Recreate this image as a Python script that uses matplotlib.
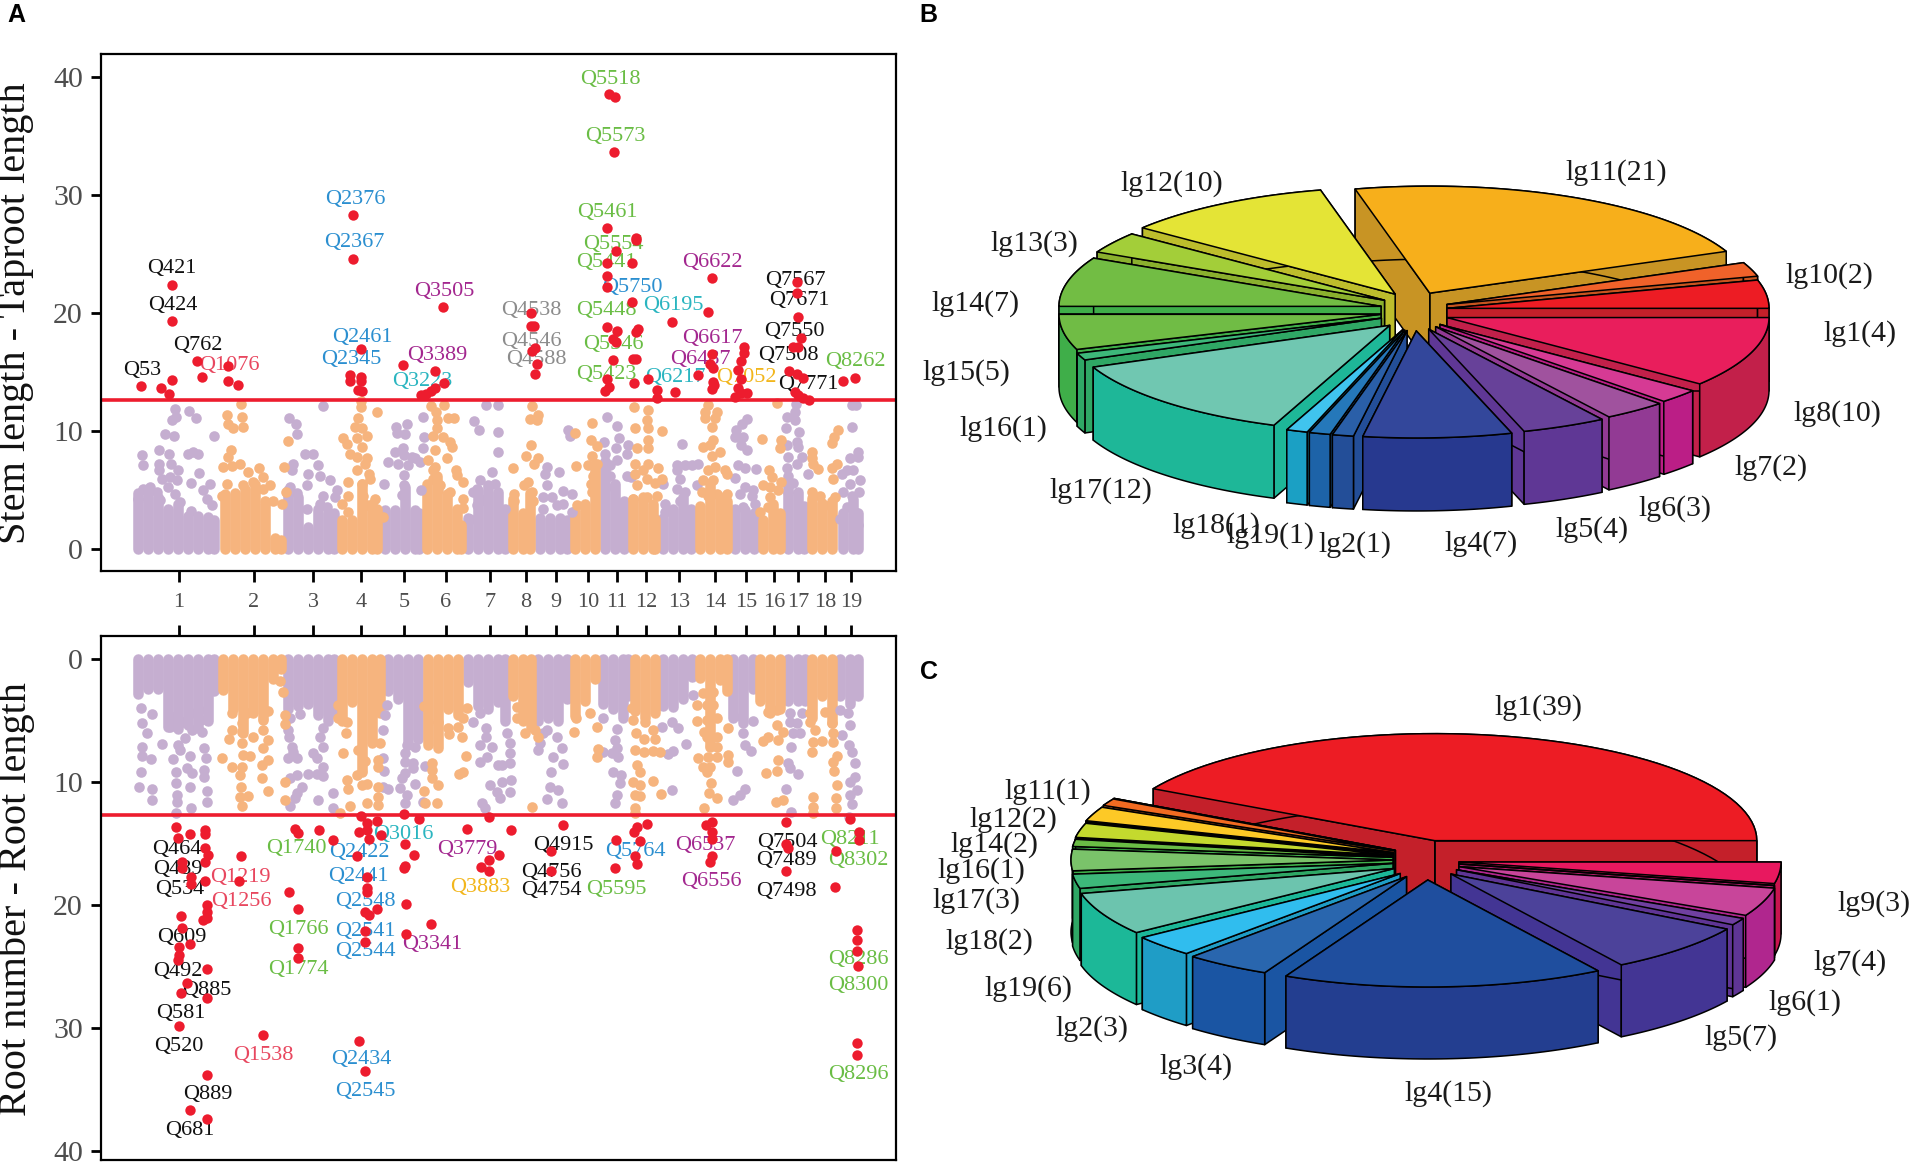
import numpy as np
import matplotlib
matplotlib.use("Agg")
import matplotlib.pyplot as plt
from matplotlib.patches import Polygon

W, H = 1910, 1164
plt.rcParams['font.family'] = ['Liberation Serif', 'DejaVu Serif']

LILAC = "#C5AED0"
ORANGE = "#F6B47E"
RED = "#ED1C2E"
THRESH = 12.65

# chromosome ticks
chrom_pos = [179, 254, 313, 361, 404, 446, 490, 526, 556, 588, 617, 646, 679, 715, 746, 774, 798, 825, 851]
chrom_lab = [str(i) for i in range(1, 20)]

# ---- panel A top, saturated part of each chromosome (position, height)
top_mass_lilac_x = [138,148,158,168,178,188,198,208,214, 288,298,308,318,328,334, 385,395,405,415,419,
                    468,478,488,498,505, 540,550,560,567, 605,615,624, 663,673,683,691, 735,745,754, 788,798,804, 843,853,858]
top_mass_lilac_y = [4.7,5.1,4.4,3.4,3.8,2.8,2.8,2.7,2.4, 5.0,4.4,1.8,3.4,3.0,3.0, 3.3,3.3,5.2,3.3,3.0,
                    2.6,5.0,5.2,4.8,3.0, 2.6,2.6,2.6,2.4, 7.4,5.5,4.0, 2.6,3.4,4.4,3.4, 3.4,3.3,3.0, 5.5,4.8,3.6, 3.0,4.2,3.0]
top_mass_orange_x = [225,235,245,255,265,275,281, 342,352,362,372,377, 427,437,447,457,461, 513,523,530,
                     575,585,595, 633,643,653,655, 700,710,720,727, 763,773,780, 812,822,832]
top_mass_orange_y = [4.6,4.7,5.1,5.5,3.8,0.9,0.7, 2.4,2.4,5.5,3.8,3.4, 5.5,6.2,4.6,3.4,2.0, 4.2,3.0,4.7,
                     3.2,3.8,7.2, 4.2,4.4,3.8,2.5, 3.6,5.6,4.4,4.0, 2.4,3.8,3.0, 4.3,3.9,4.0]

# ---- panel A top, single points below the threshold
top_lilac_x = [175,172,176,189,196,165,174,214,159,169,142,143,188,193,198,159,171,159,178,162,170,177,199,191,210,203,207,212,168,175,180,143,150,157,138,160,191,
               289,296,297,323,305,313,318,293,292,308,320,330,307,290,337,335,323,297,320,307,327,
               423,424,407,396,397,405,403,395,404,412,388,398,408,415,420,404,384,404,421,402,423,
               486,474,479,498,498,492,480,488,477,473,495,483,477,470,498,500,505,
               568,570,547,545,559,547,543,552,563,572,563,557,543,572,
               607,617,619,604,628,616,605,627,617,610,627,631,610,606,
               682,677,685,692,698,677,680,663,677,685,665,665,680,697,
               747,742,736,735,743,741,747,738,745,756,735,745,753,740,752,755,743,
               796,795,787,795,786,799,787,797,798,788,802,797,787,788,793,788,808,
               852,856,852,858,858,850,847,853,842,860,850,843,859,852,847,857,840,858]
top_lilac_y = [11.84,10.9,11.2,11.7,11.05,9.77,9.57,9.6,8.39,8.05,7.93,7.08,8.05,8.16,8.05,7.22,7.22,6.66,6.66,5.95,6.09,5.8,6.43,5.58,5.52,4.96,4.25,3.68,5.24,4.67,3.97,5.1,5.24,4.82,4.25,4.1,3.2,
               11.05,10.6,9.7,12.1,8.07,8.0,7.1,7.2,6.66,6.3,6.2,5.8,5.4,5.24,5.0,4.4,4.5,4.7,3.8,3.4,3.5,
               11.2,9.5,10.6,10.3,9.8,9.7,8.55,8.16,7.93,7.8,7.37,7.22,7.08,7.65,7.37,6.23,5.52,5.38,4.96,4.53,8.5,
               12.2,10.8,10.06,9.9,8.2,6.5,5.8,5.4,5.1,4.8,5.5,4.1,3.7,2.55,12.2,3.4,3.4,
               10.06,9.6,6.94,6.37,6.5,5.4,4.4,4.4,4.87,4.6,3.8,3.7,3.4,3.1,
               11.2,10.4,9.4,9.07,8.8,8.55,8.0,8.07,7.5,7.08,6.2,6.1,6.2,5.24,
               8.87,7.08,7.08,7.08,7.2,6.66,5.95,5.5,5.1,4.8,3.8,3.1,4.0,5.4,
               11.0,10.6,10.06,9.5,9.5,8.8,8.4,7.1,6.86,6.74,6.0,5.24,5.0,4.67,4.5,3.8,3.5,
               12.3,11.6,11.2,10.9,10.2,9.9,8.8,9.07,8.64,7.8,7.8,7.2,6.8,6.2,5.6,4.8,6.37,
               12.2,12.2,10.3,8.16,7.8,7.65,6.66,6.66,6.37,5.8,5.5,4.8,4.8,4.5,3.5,3.0,2.55,2.0]
top_orange_x = [241,227,228,233,242,243,231,228,223,232,240,248,259,263,270,253,227,243,222,263,265,273,282,288,284,286,
                361,361,377,358,355,362,343,347,367,357,362,350,357,367,365,357,369,370,348,362,348,342,348,363,375,383,367,
                431,444,436,437,448,454,437,433,443,450,452,435,447,428,435,456,457,463,433,450,463,463,438,433,440,
                532,530,538,537,531,526,538,534,513,528,524,514,532,514,533,
                575,592,591,597,576,592,588,597,593,592,577,591,
                634,648,647,648,635,662,648,648,637,635,648,658,643,635,647,662,655,637,633,657,647,
                708,705,717,705,715,712,713,703,710,712,720,715,708,725,727,703,713,702,717,727,708,723,
                777,762,781,780,769,772,781,763,770,778,770,760,768,
                838,834,832,812,812,813,818,837,832,833,812,820,835,830]
top_orange_y = [12.3,11.3,10.6,10.2,11.2,10.3,8.36,7.8,6.94,7.0,7.17,6.5,6.8,6.1,5.4,5.67,5.5,5.4,4.5,5.1,4.0,4.0,3.8,9.1,6.9,4.8,
                12.5,12.0,11.6,11.05,10.3,10.2,9.43,8.84,9.6,9.35,8.64,8.07,7.8,7.65,7.2,6.66,6.37,5.95,5.67,5.52,4.45,3.82,3.1,4.5,4.25,2.7,3.7,
                12.1,12.2,11.6,10.9,11.1,11.05,10.2,9.6,9.5,9.07,8.64,8.36,7.65,7.5,6.94,6.66,6.23,5.67,5.95,4.82,4.25,3.46,4.96,6.66,5.4,
                12.1,11.0,11.3,10.9,8.8,7.9,7.7,7.2,6.8,5.67,5.4,4.67,4.8,4.0,4.0,
                9.83,10.7,9.2,8.7,7.0,7.9,7.1,7.2,6.2,4.8,3.7,5.5,
                12.0,11.8,10.9,10.2,10.2,10.0,9.2,8.5,8.5,7.2,7.2,6.86,6.66,6.37,5.95,5.95,5.6,5.4,4.25,4.5,4.4,
                12.2,11.6,11.6,11.05,11.1,10.3,9.2,8.6,8.8,7.9,8.16,6.94,6.66,6.66,6.37,5.8,5.8,4.8,4.67,4.67,4.5,4.25,
                12.4,9.3,9.26,8.55,6.66,6.1,5.67,5.4,5.24,4.96,4.4,3.1,3.5,
                10.06,9.5,9.0,8.2,7.65,7.2,6.74,7.2,6.8,5.95,4.8,4.5,4.4,3.7]

# significant points, top
top_red_x = [141.4,161.4,169,172,172,172,196.6,202,227.7,228.3,238.3,
             353.3,353.3,350,350,361,361,361,358,362,
             403,421.4,425.5,431.3,435.4,435.4,444.3,443,
             531,531,534,535,532,537,535,
             606.8,609,615,613.8,636,636,616,607.4,631.5,606.8,606.8,631.5,606.8,617,638,636,612.7,616,612.7,632.6,636,606.8,608.6,604.5,633.8,
             648,657.3,657.3,675,672,698,
             712,708.3,712,710,713,713,712,714,
             743.5,743.5,741,738,740.6,738,734.7,746.5,740.6,
             797,797,798,800.5,793.4,798,788.7,797,802.8,798,802.8,808.7,795,
             843.3,854.5]
top_red_y = [13.8,13.66,13.1,14.3,19.35,22.4,15.9,14.57,15.5,14.2,13.9,
             28.3,24.6,14.7,14.2,16.9,14.6,14.2,13.5,13.4,
             15.6,13.0,13.1,13.4,13.66,15.1,14.05,20.5,
             20.0,18.9,18.9,17.0,16.8,15.7,14.8,
             27.2,38.6,38.3,33.7,26.4,26.2,25.3,24.2,24.2,23.1,22.2,20.9,18.8,18.5,18.6,18.4,17.8,17.5,16.0,16.1,16.1,14.4,13.7,13.4,14.05,
             14.4,13.46,12.75,13.3,19.25,14.76,
             23.0,20.1,16.5,15.7,15.3,14.1,13.56,13.9,
             17.1,16.6,15.9,15.2,14.4,13.66,12.9,13.2,13.2,
             22.6,21.7,19.7,17.9,17.1,17.1,15.1,14.86,14.5,13.07,12.8,12.6,13.3,
             14.2,14.5]

BLK, BLU, GRN, PUR, TEA, GRY, PNK, YEL = "#111111", "#2B8FD0", "#6ABD45", "#A3278F", "#2AB5C0", "#8C8C8C", "#E8475F", "#F2B61C"

top_lab = ["Q5518","Q5573","Q2376","Q2367","Q421","Q424","Q762","Q53","Q1076","Q3505","Q3389","Q3223","Q2461","Q2345",
           "Q4538","Q4546","Q4588","Q5461","Q5554","Q5441","Q5750","Q5448","Q5546","Q5423","Q6195","Q6217","Q6622","Q6617",
           "Q6487","Q7052","Q7567","Q7671","Q7550","Q7508","Q7771","Q8262"]
top_lab_x = [610.4,615,355,354,172,173,198,142.6,229,444,437,422.5,362.7,351,
             531.7,531.7,536.4,607.4,613.3,606.2,632.6,606.8,613.3,606.2,673.7,674.9,711.9,712.4,
             700.1,746.5,795.8,799.3,794,788,808.7,855.6]
top_lab_y = [39.8,35.0,29.65,25.95,23.74,20.65,17.2,15.15,15.5,21.85,16.4,14.2,17.95,16.05,
             20.2,17.6,16.05,28.5,25.8,24.3,22.2,20.2,17.3,14.75,20.65,14.55,24.3,17.8,
             16.05,14.55,22.76,21.05,18.44,16.4,13.9,15.84]
top_lab_c = [GRN,GRN,BLU,BLU,BLK,BLK,BLK,BLK,PNK,PUR,PUR,TEA,BLU,BLU,
             GRY,GRY,GRY,GRN,GRN,GRN,BLU,GRN,GRN,GRN,TEA,TEA,PUR,PUR,
             PUR,YEL,BLK,BLK,BLK,BLK,BLK,GRN]

# ---- panel A bottom, saturated part
bot_mass_lilac_x = [138,148,158,168,178,188,198,208,214, 288,298,308,318,328,334, 388,398,408,418,
                    468,478,488,498,505, 538,548,558,567, 603,613,623,628, 663,673,683,692, 733,743,753, 788,798,805, 840,850,858]
bot_mass_lilac_y = [2.8,2.4,2.4,5.5,5.7,5.3,5.6,5.0,2.6, 4.0,3.8,3.6,4.5,5.0,4.4, 2.6,3.2,7.0,6.5,
                    1.8,3.8,4.0,3.5,5.0, 5.0,4.8,5.0,3.2, 3.6,4.0,4.8,3.0, 3.8,3.9,3.2,1.4, 4.8,5.2,2.4, 3.4,3.4,3.4, 3.0,3.6,3.0]
bot_mass_orange_x = [223,233,243,253,263,273,281, 342,352,362,372,380, 428,438,448,458, 513,523,531,
                     575,585,595, 635,645,655, 700,710,720,727, 760,770,780, 812,822,832]
bot_mass_orange_y = [2.5,4.0,6.0,4.4,4.8,1.6,0.8, 5.0,3.5,9.0,6.8,4.4, 7.0,7.2,4.0,4.5, 3.0,5.0,5.5,
                     4.6,3.4,1.6, 4.2,4.8,4.4, 1.5,7.0,1.7,2.6, 3.4,4.4,4.0, 4.8,3.0,5.2]

# ---- panel A bottom, single points above the threshold
bot_lilac_x = [141,152,142,147,162,142,142,151,141,139,152,152,172,170,182,190,200,207,207,192,202,178,185,180,190,173,204,206,204,204,176,187,192,176,190,177,177,207,207,191,176,
               290,300,288,289,323,320,323,292,293,297,288,313,317,290,297,308,317,323,323,302,297,295,318,333,290,333,
               387,385,383,383,384,383,388,407,415,405,405,413,405,413,402,415,400,407,405,425,423,
               473,480,486,486,480,492,487,480,498,490,497,482,485,507,510,510,510,502,511,502,510,500,
               547,557,540,538,562,553,563,551,550,558,547,562,543,
               603,617,615,617,603,612,618,613,621,620,617,615,
               662,672,678,686,673,668,672,693,
               742,753,743,745,751,737,745,740,733,
               790,802,790,797,793,800,791,788,790,798,786,791,
               840,848,850,842,849,852,855,855,850,857,850,852,849]
bot_lilac_y = [3.98,4.44,5.2,6.0,6.88,7.1,7.86,8.13,9.13,10.35,10.54,11.44,4.66,5.47,5.07,4.39,4.93,4.12,4.93,5.75,5.88,6.96,6.42,7.37,7.86,8.13,7.24,8.05,9.0,9.6,9.13,8.86,9.2,10.08,10.35,11.03,11.57,10.68,11.63,12.06,12.47,
               4.8,4.44,5.75,6.34,5.6,6.34,7.1,7.1,7.5,8.05,8.05,7.64,8.05,9.67,9.4,9.32,9.32,8.78,9.49,10.35,10.9,11.3,11.44,10.84,11.9,12.06,
               3.7,4.53,5.75,8.0,9.05,10.35,10.54,6.96,7.1,7.64,8.32,8.46,9.27,8.86,9.67,10.16,10.49,11.03,11.7,8.64,11.63,
               5.07,4.39,5.6,6.34,6.96,7.1,7.9,8.32,8.6,10.2,10.76,11.65,12.1,6.0,6.83,7.64,8.46,8.6,9.8,9.95,10.76,11.3,
               5.75,6.29,6.83,7.37,7.24,7.9,8.5,9.13,10.4,10.6,11.35,11.7,6.0,
               4.74,5.7,6.56,7.24,7.5,7.64,7.9,9.13,9.4,10.08,11.03,11.7,
               5.47,5.07,5.56,6.9,7.45,7.7,10.6,2.9,
               4.66,5.0,6.0,6.96,7.43,9.05,10.54,11.03,11.44,
               4.39,4.34,5.07,5.2,6.0,6.0,7.1,8.46,8.86,9.32,10.57,12.44,
               4.12,4.39,5.34,6.15,6.96,7.5,8.46,9.54,9.95,10.62,11.03,11.76,12.8]
bot_orange_x = [232,247,268,263,242,232,242,229,253,263,268,242,263,268,222,232,243,250,242,262,240,262,241,248,240,268,242,280,283,285,285,285,285,
                338,338,347,346,343,358,365,362,357,380,378,378,362,367,347,348,378,378,367,350,378,340,
                424,438,448,449,458,462,466,463,459,432,432,432,438,424,437,425,463,467,
                517,517,525,535,538,532,
                576,574,590,597,598,597,
                632,633,645,636,644,653,655,635,644,653,660,637,640,633,640,635,640,653,661,635,635,
                703,713,697,707,713,697,707,717,728,704,717,707,717,710,708,698,717,703,710,707,728,728,711,709,717,704,
                768,777,777,783,768,763,778,778,777,766,783,776,
                810,825,810,815,832,833,813,822,833,812,837,833,834,837,813,813,836,836,813]
bot_orange_y = [4.39,4.39,4.17,4.93,5.2,5.75,5.88,6.5,6.29,5.75,6.56,6.83,7.24,8.18,8.05,8.73,7.78,7.86,8.73,8.6,9.4,9.67,10.35,11.08,11.17,10.7,11.92,1.76,2.63,4.53,5.26,11.44,9.95,
                3.7,4.8,5.07,6.0,7.64,7.37,8.3,9.13,9.4,6.83,8.18,8.73,10.2,10.1,9.8,10.54,10.35,11.17,11.7,11.9,11.84,12.5,
                3.8,5.07,5.6,6.1,5.47,6.34,7.83,9.13,9.32,8.46,9.0,9.67,10.2,10.68,11.7,11.7,4.8,3.98,
                3.85,4.8,6.0,5.75,6.34,12.0,
                4.8,5.9,4.39,5.47,7.29,7.97,
                3.98,4.93,5.07,5.96,6.5,5.75,6.5,7.37,7.5,7.42,7.5,8.6,9.13,9.95,10.2,11.03,11.1,9.9,10.98,12.1,12.47,
                2.76,2.63,3.7,3.7,3.7,5.0,4.93,4.8,5.6,5.88,6.29,6.29,7.1,7.1,7.9,8.05,7.9,8.73,8.73,9.13,7.78,8.32,10.08,10.9,11.3,12.1,
                4.25,4.12,5.34,5.88,6.29,6.6,6.56,8.18,9.05,9.27,11.44,11.63,
                4.39,4.25,5.07,5.75,5.2,6.0,6.7,6.6,6.7,7.5,7.83,8.32,9.05,10.2,11.17,12.0,11.3,12.1,12.5]

# significant points, bottom
bot_red_x = [176,178,190,205,205,205,208,205,182,182,191,205,191,206.6,206.6,206.6,202.5,181,182,190,179,179,178,206.6,186.6,181,206.6,179,206.6,189.6,206.6,
             240.6,239.4,263,
             295,297.5,319,333,288.7,297.5,298,298,
             361,367,377,359,367,368.5,381,357,367,367,367,365,368.5,377,365,365,359,365,
             404,419,405,414,405,404,406,406,431,
             466.5,489,499,489,481,489.4,511,
             550.5,563,550.5,
             616,615,637,634,640,635,637,647,
             706,712,712,712,712,710,
             786,786,787.6,786,
             850,858.6,858.6,835.7,834.5,857,857,857,858,857.4,857.4]
bot_red_y = [13.65,14.5,14.2,13.9,14.2,15.35,15.9,16.5,16.5,17,17.7,18,18.3,20,20.5,21,21.2,20.9,21.8,23.1,23.4,24,24.4,25.2,26.3,27.1,27.5,29.8,33.8,36.6,37.4,
             16,18,30.5,
             13.8,14.1,13.9,14.7,18.9,20.3,23.5,24.3,
             12.7,13.3,13.1,14,13.9,14.6,14.3,16,17.7,18.6,18.9,20.5,20.8,20.3,22.1,23,31,33.5,
             12.6,13,15,15.9,16.8,17,19.9,22.3,21.5,
             13.8,12.8,15.9,16.3,16.9,17.2,13.9,
             15.6,13.5,17.2,
             14.65,17,13.6,14,14.8,16,16.6,13.4,
             13.45,13.2,14,14.6,16,16.5,
             13.2,15,15.35,17.2,
             13,14,14.7,15.55,18.5,22,22.8,23.7,24.9,31.2,32.2]

bot_lab = ["Q464","Q489","Q534","Q609","Q492","Q885","Q581","Q520","Q889","Q681","Q1219","Q1256","Q1538","Q1740","Q1766","Q1774",
           "Q2422","Q2441","Q2548","Q2541","Q2544","Q2434","Q2545","Q3016","Q3779","Q3341","Q3883","Q4915","Q4756","Q4754","Q5764","Q5595",
           "Q6537","Q6556","Q7504","Q7489","Q7498","Q8211","Q8302","Q8286","Q8300","Q8296"]
bot_lab_x = [177.2,177.8,180.2,181.9,177.8,207.2,181.3,179,208.3,189.6,240.6,241.8,263.5,296.4,298.7,298.7,
             359.7,358,365.6,365,365,360.9,365,403.8,467.7,432.5,480,563.4,551.6,551.6,635,616.2,
             705.4,711.3,787.6,786.4,786.4,849.8,858.6,858,858.6,858]
bot_lab_y = [15.44,17.1,18.7,22.6,25.4,26.9,28.8,31.5,35.4,38.3,17.7,19.65,32.2,15.41,21.93,25.2,
             15.7,17.63,19.68,22.16,23.74,32.54,35.17,14.27,15.44,23.2,18.57,15.14,17.3,18.8,15.64,18.7,
             15.14,18.07,14.9,16.32,18.86,14.68,16.37,24.41,26.52,33.77]
bot_lab_c = [BLK,BLK,BLK,BLK,BLK,BLK,BLK,BLK,BLK,BLK,PNK,PNK,PNK,GRN,GRN,GRN,
             BLU,BLU,BLU,BLU,BLU,BLU,BLU,TEA,PUR,PUR,YEL,BLK,BLK,BLK,BLU,GRN,
             PUR,PUR,BLK,BLK,BLK,GRN,GRN,GRN,GRN,GRN]

# ---- pie B
b_names = ["lg1","lg10","lg11","lg12","lg13","lg14","lg15","lg16","lg17","lg18","lg19","lg2","lg4","lg5","lg6","lg7","lg8"]
b_vals = [4,2,21,10,3,7,5,1,12,1,1,1,7,4,3,2,10]
b_top = ["#ED1C24","#F0622A","#F7AF1B","#E4E436","#A3CE39","#72BD44","#70BC45","#3DB87A","#70C7B1","#40C4EE","#2578BA","#2A5FA8","#33479B","#674199","#A0529E","#D63A94","#E91E5C"]
b_side = ["#C4202A","#C8541F","#C89424","#BDBD2C","#8AB02E","#3FAE49","#3FAE49","#2FA765","#1EB798","#1BA0C4","#1D63A8","#234E98","#27398F","#5F3795","#923A94","#BB1E86","#C2204A"]
b_lab_x = [1860,1829,1616,1172,1034,976,966,1003,1101,1216,1270,1355,1481,1592,1675,1771,1837]
b_lab_y = [334,276,173,184,244,304,373,429,491,526,536,545,544,530,509,468,414]

# ---- pie C, groups with 0 only show as a black line
c_names = ["lg1","lg10","lg11","lg12","lg13","lg14","lg15","lg16","lg17","lg18","lg19","lg2","lg3","lg4","lg5","lg6","lg7","lg8","lg9"]
c_vals = [39,0,1,2,0,2,0,1,3,2,6,3,4,15,7,1,4,0,3]
c_top = ["#ED1C24","#EE4E24","#F26B21","#FDC926","#DDE02E","#C4D92E","#8CC63F","#6ABD45","#7AC36A","#3DB87A","#6CC4AE","#30BDEE","#2966AE","#1F4E9E","#4C429A","#7040A0","#C8459A","#D02078","#E8185F"]
c_side = ["#C4202A","#C8421F","#C8591C","#D0A520","#B5B826","#A0B226","#72A333","#3FAE49","#3FAE49","#2FA765","#1CB898","#1F9DC6","#1A55A3","#233E90","#433594","#5F3595","#B0268E","#B01C68","#C8154F"]
c_lab_names = ["lg1(39)","lg11(1)","lg12(2)","lg14(2)","lg16(1)","lg17(3)","lg18(2)","lg19(6)","lg2(3)","lg3(4)","lg4(15)","lg5(7)","lg6(1)","lg7(4)","lg9(3)"]
c_lab_x = [1538,1048,1013,994,981,976,989,1028,1092,1196,1448,1741,1805,1850,1874]
c_lab_y = [708,792,820,845,871,901,942,989,1029,1067,1094,1038,1003,963,904]


def manhattan(ax, mass_l, mass_o, lil, ora, red, labs, thresh):
    # thick round lines for the saturated bands, width of one dot
    ax.vlines(mass_l[0], 0, mass_l[1], colors=LILAC, linewidth=7.6, capstyle='round', zorder=1)
    ax.vlines(mass_o[0], 0, mass_o[1], colors=ORANGE, linewidth=7.6, capstyle='round', zorder=1)
    ax.scatter(lil[0], lil[1], s=58, color=LILAC, linewidths=0, zorder=1)
    ax.scatter(ora[0], ora[1], s=58, color=ORANGE, linewidths=0, zorder=1.1)
    ax.axhline(thresh, color=RED, linewidth=2.6, zorder=2)
    for name, x, y, c in zip(labs[0], labs[1], labs[2], labs[3]):
        ax.text(x, y, name, color=c, fontsize=16, ha='center', va='center', zorder=3)
    ax.scatter(red[0], red[1], s=56, color=RED, linewidths=0, zorder=4)
    ax.set_xlim(101, 896)
    ax.tick_params(axis='y', labelsize=21.5, labelcolor="#4D4D4D", length=7, width=2, pad=6)
    for s in ax.spines.values():
        s.set_linewidth(1.6)


def panel(top, bottom):
    return fig.add_axes([101 / W, 1 - bottom / H, (896 - 101) / W, (bottom - top) / H])


def pie3d(ax, vals, tops, sides, cx, cy, rx=322, ry=107, h=72, ex=33, ey=20):
    total = sum(vals)
    ang = np.concatenate([[0], np.cumsum(vals)]) / total * 360
    mids = (ang[:-1] + ang[1:]) / 2
    order = np.argsort(-np.sin(np.radians(mids)))
    for z, i in enumerate(order):
        m = np.radians(mids[i])
        # slices near the horizontal share one right and left edge
        ox, oy = cx + ex * np.clip(np.cos(m) * 1.06, -1, 1), cy - ey * np.sin(m)
        t = np.radians(np.linspace(ang[i], ang[i + 1], 60))
        xs = ox + rx * np.cos(t)
        ys = oy - ry * np.sin(t)
        kw = dict(edgecolor="black", linewidth=1.1, joinstyle='round', zorder=5 + z)
        for k in (0, -1):
            ax.add_patch(Polygon([(ox, oy), (xs[k], ys[k]), (xs[k], ys[k] + h), (ox, oy + h)], facecolor=sides[i], **kw))
        wall = np.column_stack([np.r_[xs, xs[::-1]], np.r_[ys, ys[::-1] + h]])
        ax.add_patch(Polygon(wall, facecolor=sides[i], **kw))
        ax.add_patch(Polygon(np.column_stack([np.r_[ox, xs], np.r_[oy, ys]]), facecolor=tops[i], **kw))


fig = plt.figure(figsize=(W / 100, H / 100), dpi=100)

ax1 = panel(54, 571)
manhattan(ax1, (top_mass_lilac_x, top_mass_lilac_y), (top_mass_orange_x, top_mass_orange_y),
          (top_lilac_x, top_lilac_y), (top_orange_x, top_orange_y), (top_red_x, top_red_y),
          (top_lab, top_lab_x, top_lab_y, top_lab_c), THRESH)
ax1.set_ylim(-1.9, 41.98)
ax1.set_yticks([0, 10, 20, 30, 40])
ax1.set_xticks(chrom_pos)
ax1.set_xticklabels(chrom_lab)
ax1.tick_params(axis='x', labelsize=16, labelcolor="#4D4D4D", length=8, width=2, pad=8)

ax2 = panel(636, 1160)
manhattan(ax2, (bot_mass_lilac_x, bot_mass_lilac_y), (bot_mass_orange_x, bot_mass_orange_y),
          (bot_lilac_x, bot_lilac_y), (bot_orange_x, bot_orange_y), (bot_red_x, bot_red_y),
          (bot_lab, bot_lab_x, bot_lab_y, bot_lab_c), 12.63)
ax2.set_ylim(40.7, -1.9)
ax2.set_yticks([0, 10, 20, 30, 40])
ax2.set_xticks(chrom_pos)
ax2.xaxis.tick_top()
ax2.set_xticklabels([])
ax2.tick_params(axis='x', length=8, width=2)

# pies and free text, one layer in figure pixels
pax = fig.add_axes([0, 0, 1, 1], facecolor='none')
pax.set_xlim(0, W)
pax.set_ylim(H, 0)
pax.axis('off')
pie3d(pax, b_vals, b_top, b_side, 1414, 311, h=73)
pie3d(pax, c_vals, c_top, c_side, 1426, 860, h=72)

for n, v, x, y in zip(b_names, b_vals, b_lab_x, b_lab_y):
    pax.text(x, y, "%s(%d)" % (n, v), fontsize=21.5, ha='center', va='center', color="#1A1A1A", zorder=100)
for n, x, y in zip(c_lab_names, c_lab_x, c_lab_y):
    pax.text(x, y, n, fontsize=21.5, ha='center', va='center', color="#1A1A1A", zorder=100)

pax.text(16, 313, "Stem length - Taproot length", rotation=90, fontsize=29, ha='center', va='center', color="#111111")
pax.text(16, 899, "Root number - Root length", rotation=90, fontsize=29, ha='center', va='center', color="#111111")

# panel letters
for s, x, y in [("A", 16, 15), ("B", 928, 15), ("C", 929, 672)]:
    pax.text(x, y, s, fontsize=18, fontweight='bold', family='Liberation Sans', ha='center', va='center', color="black")

fig.savefig("out.png", dpi=100)
